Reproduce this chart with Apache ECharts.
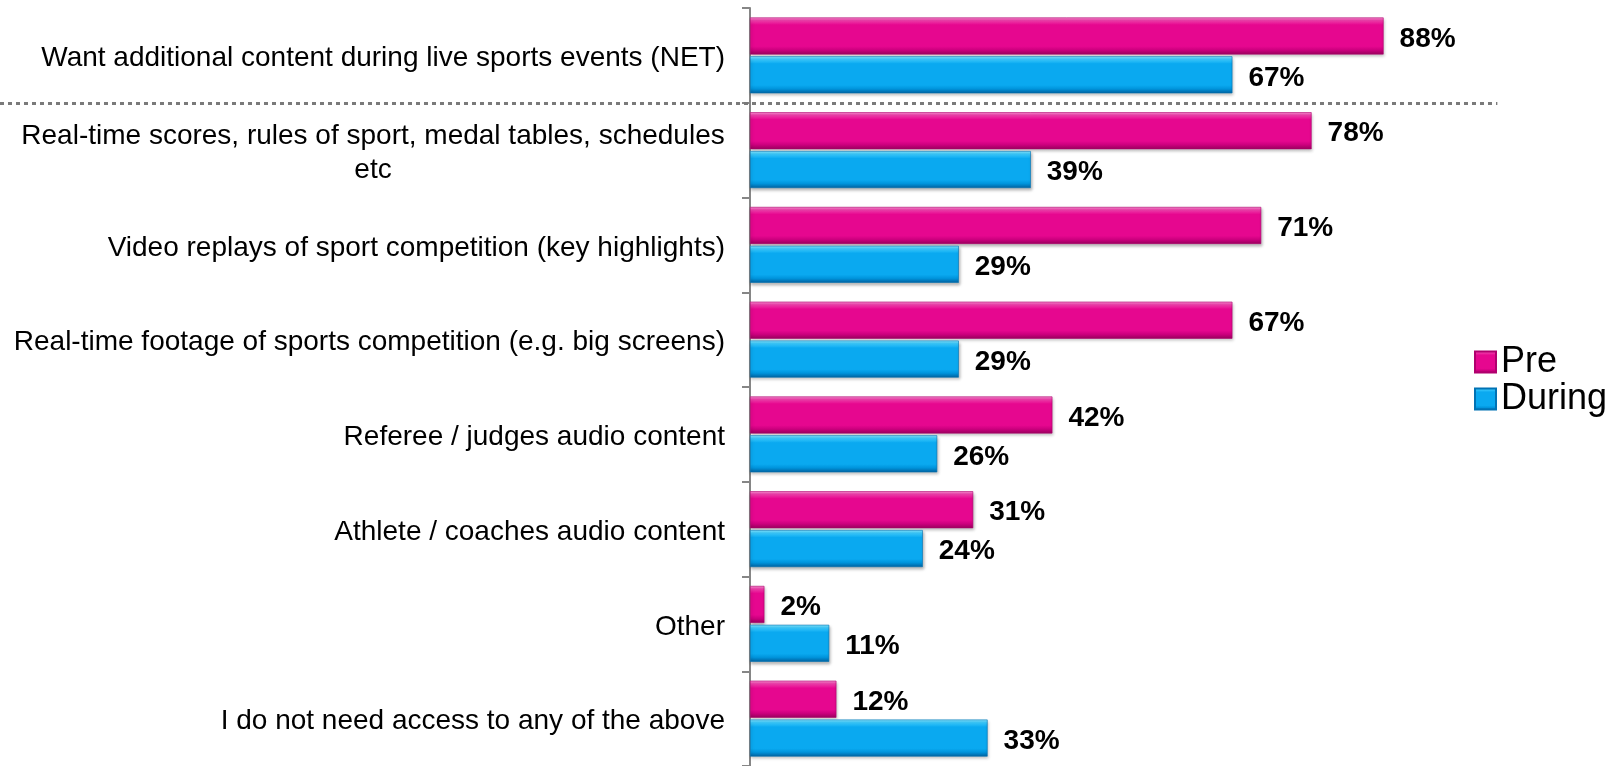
<!DOCTYPE html>
<html>
<head>
<meta charset="utf-8">
<script src="https://cdn.jsdelivr.net/npm/echarts@6/dist/echarts.min.js"></script>
<style>
  html, body { margin: 0; padding: 0; background: #ffffff; }
  #chart { width: 1611px; height: 766px; }
</style>
</head>
<body>
<div id="chart"></div>
<script>
// Content types wanted at live sports events, before vs. during the event
const categories = [
  'Want additional content during live sports events (NET)',
  'Real-time scores, rules of sport, medal tables, schedules\netc',
  'Video replays of sport competition (key highlights)',
  'Real-time footage of sports competition (e.g. big screens)',
  'Referee / judges audio content',
  'Athlete / coaches audio content',
  'Other',
  'I do not need access to any of the above'
];
const preValues = [88, 78, 71, 67, 42, 31, 2, 12];
const duringValues = [67, 39, 29, 29, 26, 24, 11, 33];
const seriesNames = ['Pre', 'During'];

const FONT = '"Liberation Sans", Arial, Helvetica, sans-serif';
const LABEL_SIZE = 28;

// width of the first line of a wrapped label, used to centre its second line
function textWidth(str, size, weight) {
  const ctx = document.createElement('canvas').getContext('2d');
  ctx.font = (weight || 'normal') + ' ' + size + 'px ' + FONT;
  return Math.ceil(ctx.measureText(str).width);
}

function bevel(top, light, main, dark, bottom) {
  return {
    type: 'linear', x: 0, y: 0, x2: 0, y2: 1,
    colorStops: [
      { offset: 0, color: top },
      { offset: 0.08, color: light },
      { offset: 0.2, color: main },
      { offset: 0.78, color: main },
      { offset: 0.88, color: dark },
      { offset: 1, color: bottom }
    ]
  };
}

const pinkFill = bevel('#fa92d4', '#f040ac', '#e6078f', '#cc007e', '#98005c');
const blueFill = bevel('#8ae8ff', '#3ccafd', '#0aa9f0', '#0094dc', '#00609e');

function valueLabel() {
  return {
    show: true,
    position: 'right',
    distance: 16,
    offset: [0, 3],
    formatter: '{c}%',
    fontFamily: FONT,
    fontSize: LABEL_SIZE,
    fontWeight: 'bold',
    color: '#000000'
  };
}

const chart = echarts.init(document.getElementById('chart'), null, { renderer: 'canvas' });

const option = {
  animation: false,
  backgroundColor: '#ffffff',
  grid: { left: 750, right: 141, top: 8, height: 760, containLabel: false },
  legend: {
    data: seriesNames,
    orient: 'vertical',
    left: 1469,
    top: 339,
    itemWidth: 21,
    itemHeight: 21,
    itemGap: 1,
    icon: 'rect',
    textStyle: { fontFamily: FONT, fontSize: 36, color: '#000000', lineHeight: 36 }
  },
  xAxis: {
    type: 'value',
    min: 0,
    max: 100,
    show: false
  },
  yAxis: {
    type: 'category',
    data: categories,
    inverse: true,
    axisLine: { show: true, lineStyle: { color: '#868686', width: 2 } },
    axisTick: { show: true, length: 8, lineStyle: { color: '#868686', width: 2 } },
    axisLabel: {
      margin: 25,
      padding: [6, 0, 0, 0],
      fontFamily: FONT,
      fontSize: LABEL_SIZE,
      color: '#000000',
      lineHeight: 34,
      formatter: function (v) {
        if (v.indexOf('\n') < 0) return v;
        const lines = v.split('\n');
        return lines.map(function (l) { return '{c|' + l + '}'; }).join('\n');
      },
      rich: {
        c: {
          width: textWidth(categories[1].split('\n')[0], LABEL_SIZE),
          align: 'center',
          fontFamily: FONT,
          fontSize: LABEL_SIZE,
          lineHeight: 34,
          color: '#000000'
        }
      }
    },
    splitLine: { show: false }
  },
  series: [
    {
      name: seriesNames[0],
      type: 'bar',
      data: preValues,
      barWidth: 37,
      barGap: '5%',
      itemStyle: {
        color: pinkFill,
        borderColor: '#b0006e',
        borderWidth: 0.6,
        shadowColor: 'rgba(0,0,0,0.28)',
        shadowBlur: 3,
        shadowOffsetX: 1,
        shadowOffsetY: 2
      },
      label: valueLabel()
    },
    {
      name: seriesNames[1],
      type: 'bar',
      data: duringValues,
      barWidth: 37,
      itemStyle: {
        color: blueFill,
        borderColor: '#0072b4',
        borderWidth: 0.6,
        shadowColor: 'rgba(0,0,0,0.28)',
        shadowBlur: 3,
        shadowOffsetX: 1,
        shadowOffsetY: 2
      },
      label: valueLabel()
    }
  ]
};

chart.setOption(option);

// dotted separator between the NET row and the detailed rows
const yTop = chart.convertToPixel({ yAxisIndex: 0 }, 0);
const yNext = chart.convertToPixel({ yAxisIndex: 0 }, 1);
const sepY = Math.round((yTop + yNext) / 2) + 0.5;
const sepRight = chart.convertToPixel({ xAxisIndex: 0 }, 103.8);
chart.setOption({
  graphic: [{
    type: 'line',
    z: 100,
    shape: { x1: 0, y1: sepY, x2: sepRight, y2: sepY },
    style: { stroke: '#7a7a7a', lineWidth: 3, lineDash: [4, 4] }
  }]
});
</script>
</body>
</html>
